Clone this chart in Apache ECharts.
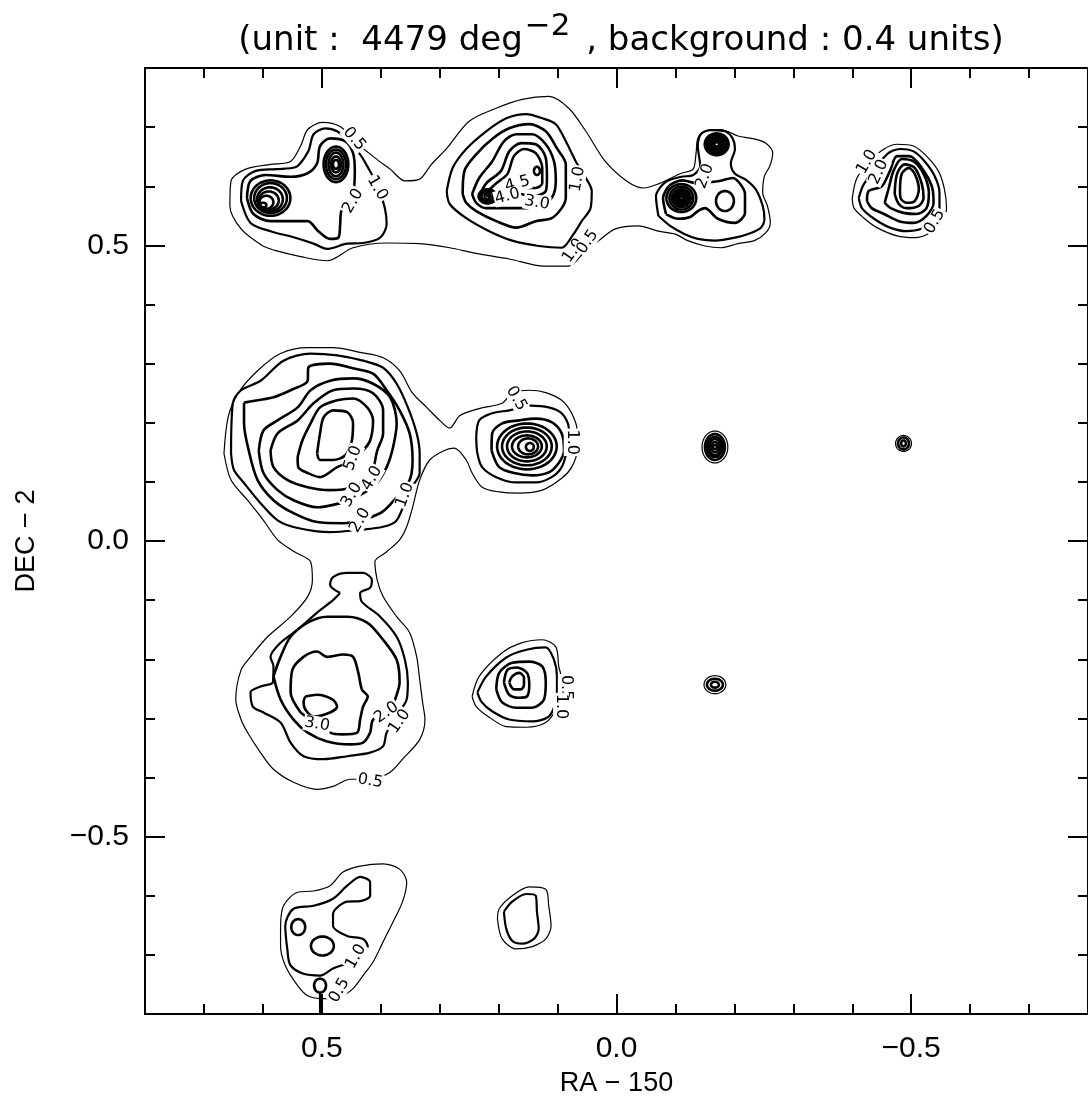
<!DOCTYPE html>
<html>
<head>
<meta charset="utf-8">
<title>RA / DEC density contours</title>
<script src="https://cdn.jsdelivr.net/npm/echarts@6/dist/echarts.min.js"></script>
<style>
html, body { margin: 0; padding: 0; background: #fff; }
#chart { width: 1088px; height: 1102px; }
</style>
</head>
<body>
<div id="chart"></div>
<script>
// axes: RA - 150 (deg, runs right to left) and DEC - 2 (deg)
var axisMin = -0.8;
var axisMax = 0.8;
var majorTicks = [-0.5, 0, 0.5];

// contour vertices [RA-150, DEC-2]
// top row: one 0.5 outline around the three groups
var topRow05 = [[0.600,0.499],[0.637,0.528],[0.656,0.567],[0.654,0.609],[0.629,0.629],[0.587,0.637],[0.553,0.642],[0.536,0.668],[0.524,0.696],[0.499,0.708],[0.469,0.701],[0.440,0.673],[0.410,0.648],[0.384,0.629],[0.359,0.609],[0.334,0.612],[0.314,0.637],[0.288,0.664],[0.250,0.710],[0.204,0.732],[0.160,0.747],[0.115,0.752],[0.081,0.732],[0.052,0.693],[0.019,0.642],[-0.017,0.609],[-0.046,0.597],[-0.071,0.604],[-0.110,0.622],[-0.130,0.629],[-0.135,0.656],[-0.138,0.681],[-0.150,0.693],[-0.177,0.696],[-0.206,0.685],[-0.234,0.680],[-0.253,0.673],[-0.265,0.656],[-0.260,0.634],[-0.251,0.617],[-0.248,0.589],[-0.256,0.567],[-0.261,0.538],[-0.253,0.521],[-0.234,0.508],[-0.206,0.503],[-0.177,0.496],[-0.150,0.499],[-0.121,0.508],[-0.100,0.519],[-0.071,0.524],[-0.037,0.533],[0.002,0.528],[0.030,0.508],[0.056,0.487],[0.081,0.465],[0.123,0.465],[0.182,0.477],[0.241,0.487],[0.283,0.496],[0.334,0.503],[0.390,0.504],[0.447,0.496],[0.491,0.474],[0.536,0.481],[0.578,0.491],[0.600,0.499]];

// top-left group
var a10 = [[0.637,0.575],[0.634,0.609],[0.612,0.626],[0.578,0.629],[0.545,0.632],[0.523,0.659],[0.514,0.688],[0.494,0.698],[0.474,0.693],[0.455,0.676],[0.435,0.654],[0.423,0.634],[0.405,0.600],[0.393,0.563],[0.390,0.536],[0.401,0.513],[0.430,0.504],[0.457,0.503],[0.491,0.494],[0.514,0.503],[0.545,0.513],[0.587,0.524],[0.621,0.538],[0.637,0.575]];
var a20 = [[0.627,0.580],[0.621,0.609],[0.595,0.619],[0.553,0.616],[0.524,0.622],[0.508,0.639],[0.503,0.668],[0.486,0.681],[0.460,0.676],[0.447,0.656],[0.444,0.626],[0.449,0.578],[0.467,0.558],[0.469,0.533],[0.472,0.513],[0.486,0.511],[0.506,0.524],[0.524,0.541],[0.553,0.541],[0.587,0.541],[0.616,0.553],[0.627,0.580]];

// top-middle group
var b10 = [[0.288,0.592],[0.278,0.631],[0.255,0.663],[0.221,0.693],[0.187,0.715],[0.153,0.722],[0.126,0.715],[0.103,0.705],[0.086,0.676],[0.069,0.642],[0.052,0.614],[0.042,0.592],[0.044,0.563],[0.059,0.541],[0.073,0.519],[0.093,0.496],[0.132,0.499],[0.177,0.508],[0.216,0.524],[0.255,0.546],[0.283,0.570],[0.288,0.592]];
var b20 = [[0.261,0.587],[0.258,0.626],[0.238,0.654],[0.211,0.680],[0.182,0.698],[0.148,0.705],[0.120,0.693],[0.101,0.664],[0.086,0.637],[0.086,0.614],[0.086,0.580],[0.093,0.563],[0.110,0.546],[0.137,0.541],[0.170,0.530],[0.204,0.541],[0.238,0.558],[0.255,0.572],[0.261,0.587]];
var b30 = [[0.245,0.587],[0.233,0.614],[0.211,0.642],[0.191,0.676],[0.170,0.688],[0.143,0.688],[0.120,0.671],[0.106,0.642],[0.103,0.609],[0.110,0.580],[0.132,0.567],[0.153,0.563],[0.187,0.563],[0.221,0.563],[0.238,0.572],[0.245,0.587]];
var b40 = [[0.233,0.583],[0.221,0.605],[0.196,0.626],[0.182,0.659],[0.162,0.673],[0.137,0.671],[0.120,0.648],[0.118,0.614],[0.120,0.592],[0.143,0.583],[0.165,0.587],[0.194,0.580],[0.216,0.572],[0.229,0.575],[0.233,0.583]];
var b45 = [[0.221,0.589],[0.204,0.605],[0.185,0.621],[0.174,0.651],[0.157,0.663],[0.137,0.656],[0.126,0.631],[0.126,0.605],[0.137,0.597],[0.160,0.597],[0.187,0.592],[0.207,0.583],[0.219,0.583],[0.221,0.589]];

// top-right pair
var c10 = [[-0.071,0.550],[-0.067,0.583],[-0.083,0.607],[-0.110,0.616],[-0.130,0.619],[-0.142,0.634],[-0.138,0.668],[-0.143,0.688],[-0.160,0.695],[-0.184,0.693],[-0.197,0.681],[-0.201,0.663],[-0.194,0.639],[-0.201,0.621],[-0.218,0.612],[-0.236,0.595],[-0.248,0.567],[-0.251,0.545],[-0.245,0.530],[-0.228,0.521],[-0.201,0.513],[-0.167,0.508],[-0.138,0.511],[-0.116,0.519],[-0.091,0.533],[-0.071,0.550]];
var c20 = [[-0.084,0.553],[-0.079,0.580],[-0.091,0.602],[-0.113,0.610],[-0.135,0.605],[-0.175,0.609],[-0.197,0.614],[-0.209,0.605],[-0.218,0.587],[-0.218,0.555],[-0.201,0.538],[-0.172,0.545],[-0.150,0.563],[-0.138,0.558],[-0.125,0.548],[-0.105,0.545],[-0.084,0.553]];

// far top-right group
var d05 = [[-0.400,0.580],[-0.408,0.614],[-0.430,0.642],[-0.454,0.663],[-0.476,0.671],[-0.504,0.668],[-0.526,0.651],[-0.546,0.626],[-0.556,0.597],[-0.560,0.563],[-0.551,0.541],[-0.531,0.521],[-0.506,0.513],[-0.476,0.516],[-0.442,0.530],[-0.420,0.546],[-0.403,0.563],[-0.400,0.580]];
var d10 = [[-0.411,0.580],[-0.420,0.604],[-0.459,0.654],[-0.481,0.663],[-0.504,0.659],[-0.523,0.642],[-0.540,0.617],[-0.548,0.589],[-0.548,0.563],[-0.538,0.541],[-0.518,0.528],[-0.492,0.524],[-0.464,0.530],[-0.437,0.545],[-0.417,0.562],[-0.411,0.580]];
var d20 = [[-0.425,0.575],[-0.428,0.592],[-0.450,0.600],[-0.464,0.626],[-0.476,0.651],[-0.497,0.651],[-0.518,0.631],[-0.535,0.600],[-0.538,0.572],[-0.526,0.550],[-0.504,0.538],[-0.479,0.541],[-0.454,0.553],[-0.433,0.563],[-0.425,0.575]];
var d30 = [[-0.455,0.572],[-0.462,0.597],[-0.470,0.626],[-0.484,0.646],[-0.504,0.642],[-0.521,0.621],[-0.530,0.589],[-0.526,0.563],[-0.509,0.553],[-0.487,0.555],[-0.467,0.562],[-0.455,0.572]];
var d40 = [[-0.472,0.587],[-0.476,0.621],[-0.489,0.637],[-0.506,0.631],[-0.518,0.604],[-0.521,0.580],[-0.513,0.567],[-0.492,0.563],[-0.479,0.570],[-0.472,0.587]];
var d50 = [[-0.481,0.592],[-0.484,0.621],[-0.496,0.631],[-0.506,0.621],[-0.513,0.595],[-0.506,0.575],[-0.492,0.572],[-0.482,0.580],[-0.481,0.592]];

// middle: one 0.5 outline round the big left group, its neighbour and the group below
var mid05 = [[0.666,0.148],[0.659,0.209],[0.642,0.250],[0.609,0.288],[0.570,0.317],[0.524,0.327],[0.481,0.327],[0.435,0.319],[0.396,0.310],[0.368,0.288],[0.346,0.250],[0.322,0.226],[0.300,0.204],[0.283,0.191],[0.266,0.212],[0.233,0.224],[0.194,0.233],[0.177,0.250],[0.148,0.255],[0.120,0.251],[0.093,0.238],[0.076,0.216],[0.067,0.187],[0.067,0.153],[0.076,0.125],[0.093,0.106],[0.126,0.086],[0.165,0.081],[0.199,0.083],[0.228,0.091],[0.245,0.115],[0.255,0.137],[0.275,0.157],[0.292,0.153],[0.317,0.137],[0.334,0.103],[0.346,0.057],[0.356,0.024],[0.368,0.002],[0.391,-0.019],[0.410,-0.035],[0.406,-0.066],[0.396,-0.094],[0.373,-0.128],[0.351,-0.155],[0.339,-0.196],[0.334,-0.234],[0.329,-0.273],[0.325,-0.302],[0.334,-0.336],[0.363,-0.369],[0.384,-0.391],[0.418,-0.403],[0.452,-0.403],[0.481,-0.415],[0.508,-0.420],[0.548,-0.408],[0.582,-0.386],[0.604,-0.358],[0.626,-0.324],[0.637,-0.302],[0.646,-0.268],[0.637,-0.218],[0.621,-0.196],[0.592,-0.162],[0.553,-0.128],[0.524,-0.094],[0.516,-0.066],[0.519,-0.035],[0.545,-0.019],[0.575,0.002],[0.599,0.035],[0.626,0.069],[0.654,0.103],[0.666,0.148]];

// big middle-left group
var e10 = [[0.654,0.148],[0.651,0.233],[0.637,0.255],[0.604,0.271],[0.565,0.305],[0.519,0.317],[0.474,0.314],[0.430,0.305],[0.396,0.293],[0.373,0.266],[0.354,0.226],[0.339,0.182],[0.334,0.148],[0.334,0.115],[0.351,0.086],[0.373,0.035],[0.396,0.024],[0.435,0.019],[0.486,0.015],[0.541,0.022],[0.575,0.035],[0.604,0.064],[0.632,0.098],[0.649,0.120],[0.654,0.148]];
var e20 = [[0.632,0.234],[0.609,0.238],[0.582,0.243],[0.553,0.255],[0.524,0.271],[0.523,0.293],[0.486,0.300],[0.447,0.292],[0.413,0.283],[0.390,0.255],[0.368,0.221],[0.351,0.182],[0.346,0.137],[0.351,0.103],[0.373,0.074],[0.401,0.047],[0.464,0.030],[0.508,0.032],[0.548,0.047],[0.582,0.069],[0.609,0.103],[0.624,0.153],[0.632,0.199],[0.632,0.234]];
var e30 = [[0.607,0.153],[0.599,0.187],[0.575,0.204],[0.541,0.226],[0.519,0.255],[0.486,0.271],[0.447,0.275],[0.413,0.266],[0.384,0.243],[0.373,0.199],[0.379,0.159],[0.390,0.125],[0.410,0.094],[0.444,0.073],[0.469,0.064],[0.508,0.057],[0.548,0.069],[0.575,0.086],[0.599,0.115],[0.607,0.153]];
var e40 = [[0.587,0.153],[0.575,0.182],[0.541,0.204],[0.514,0.233],[0.481,0.255],[0.447,0.258],[0.413,0.250],[0.396,0.221],[0.396,0.182],[0.406,0.153],[0.418,0.108],[0.447,0.091],[0.486,0.086],[0.524,0.091],[0.558,0.103],[0.582,0.125],[0.587,0.153]];
var e50 = [[0.541,0.142],[0.533,0.170],[0.519,0.199],[0.503,0.226],[0.474,0.238],[0.447,0.241],[0.423,0.226],[0.413,0.204],[0.418,0.170],[0.430,0.153],[0.452,0.133],[0.474,0.125],[0.503,0.108],[0.524,0.115],[0.540,0.125],[0.541,0.142]];
var e60 = [[0.508,0.148],[0.503,0.182],[0.497,0.209],[0.481,0.221],[0.457,0.218],[0.447,0.199],[0.449,0.170],[0.460,0.145],[0.481,0.137],[0.503,0.137],[0.508,0.148]];

// middle group
var f10 = [[0.238,0.175],[0.233,0.204],[0.211,0.216],[0.182,0.221],[0.145,0.229],[0.115,0.226],[0.093,0.216],[0.081,0.192],[0.081,0.170],[0.084,0.153],[0.093,0.125],[0.110,0.108],[0.137,0.099],[0.170,0.099],[0.204,0.108],[0.228,0.125],[0.236,0.148],[0.238,0.175]];
var f20 = [[0.212,0.153],[0.211,0.182],[0.194,0.199],[0.165,0.204],[0.137,0.207],[0.110,0.201],[0.093,0.182],[0.089,0.153],[0.098,0.132],[0.115,0.116],[0.143,0.111],[0.174,0.115],[0.199,0.125],[0.212,0.153]];

// lower-left group
var g10 = [[0.469,-0.088],[0.486,-0.074],[0.481,-0.061],[0.457,-0.054],[0.430,-0.054],[0.415,-0.066],[0.418,-0.079],[0.435,-0.088],[0.432,-0.103],[0.401,-0.128],[0.373,-0.162],[0.359,-0.201],[0.354,-0.239],[0.356,-0.268],[0.368,-0.288],[0.390,-0.324],[0.396,-0.347],[0.418,-0.358],[0.457,-0.364],[0.497,-0.369],[0.531,-0.364],[0.553,-0.341],[0.570,-0.307],[0.599,-0.290],[0.617,-0.280],[0.621,-0.256],[0.604,-0.246],[0.583,-0.239],[0.582,-0.212],[0.587,-0.196],[0.570,-0.172],[0.541,-0.150],[0.508,-0.121],[0.481,-0.100],[0.469,-0.088]];
var g20 = [[0.582,-0.229],[0.570,-0.196],[0.553,-0.162],[0.524,-0.138],[0.491,-0.128],[0.457,-0.128],[0.423,-0.138],[0.396,-0.167],[0.373,-0.201],[0.368,-0.239],[0.373,-0.260],[0.384,-0.285],[0.413,-0.302],[0.418,-0.324],[0.430,-0.341],[0.452,-0.344],[0.491,-0.339],[0.524,-0.324],[0.548,-0.302],[0.570,-0.268],[0.582,-0.229]];
var g30 = [[0.536,-0.290],[0.553,-0.256],[0.550,-0.218],[0.531,-0.196],[0.508,-0.187],[0.491,-0.196],[0.464,-0.192],[0.447,-0.196],[0.438,-0.223],[0.432,-0.251],[0.422,-0.263],[0.430,-0.280],[0.435,-0.302],[0.440,-0.324],[0.464,-0.327],[0.486,-0.324],[0.536,-0.290]];
var g40 = [[0.528,-0.263],[0.508,-0.260],[0.482,-0.268],[0.474,-0.280],[0.486,-0.290],[0.514,-0.297],[0.528,-0.285],[0.531,-0.272],[0.528,-0.263]];

// lower-middle group
var h05 = [[0.245,-0.263],[0.233,-0.229],[0.194,-0.189],[0.160,-0.172],[0.126,-0.167],[0.103,-0.179],[0.098,-0.212],[0.093,-0.234],[0.098,-0.263],[0.103,-0.285],[0.120,-0.307],[0.153,-0.315],[0.187,-0.314],[0.216,-0.298],[0.238,-0.280],[0.245,-0.263]];
var h10 = [[0.236,-0.256],[0.221,-0.229],[0.187,-0.197],[0.153,-0.184],[0.120,-0.180],[0.106,-0.201],[0.101,-0.229],[0.101,-0.251],[0.103,-0.273],[0.115,-0.297],[0.143,-0.305],[0.182,-0.302],[0.211,-0.288],[0.229,-0.272],[0.236,-0.256]];
var h20 = [[0.204,-0.251],[0.199,-0.223],[0.177,-0.206],[0.148,-0.204],[0.126,-0.212],[0.120,-0.239],[0.123,-0.268],[0.143,-0.282],[0.170,-0.282],[0.194,-0.273],[0.204,-0.251]];
var h30 = [[0.191,-0.239],[0.185,-0.218],[0.169,-0.214],[0.152,-0.223],[0.148,-0.243],[0.152,-0.263],[0.165,-0.265],[0.182,-0.260],[0.191,-0.239]];
var h40 = [[0.182,-0.239],[0.177,-0.229],[0.165,-0.223],[0.157,-0.231],[0.157,-0.243],[0.162,-0.251],[0.174,-0.251],[0.179,-0.246],[0.182,-0.239]];

// bottom-left group
var i05 = [[0.570,-0.651],[0.565,-0.617],[0.541,-0.594],[0.514,-0.592],[0.486,-0.583],[0.464,-0.560],[0.435,-0.550],[0.396,-0.546],[0.368,-0.555],[0.356,-0.577],[0.363,-0.610],[0.379,-0.644],[0.396,-0.678],[0.413,-0.712],[0.430,-0.735],[0.447,-0.757],[0.469,-0.771],[0.497,-0.774],[0.524,-0.769],[0.541,-0.752],[0.562,-0.718],[0.570,-0.685],[0.570,-0.651]];
var i10 = [[0.558,-0.695],[0.562,-0.651],[0.548,-0.622],[0.514,-0.617],[0.481,-0.605],[0.457,-0.583],[0.435,-0.568],[0.418,-0.577],[0.418,-0.600],[0.435,-0.609],[0.457,-0.610],[0.481,-0.631],[0.481,-0.651],[0.457,-0.668],[0.430,-0.673],[0.422,-0.686],[0.430,-0.695],[0.452,-0.712],[0.481,-0.723],[0.503,-0.735],[0.531,-0.732],[0.553,-0.718],[0.558,-0.695]];
var iStem = [[0.503,-0.764],[0.503,-0.800]];

// bottom-middle group
var j05 = [[0.202,-0.639],[0.199,-0.622],[0.177,-0.600],[0.148,-0.585],[0.120,-0.589],[0.115,-0.617],[0.111,-0.651],[0.120,-0.673],[0.143,-0.686],[0.170,-0.690],[0.194,-0.673],[0.202,-0.639]];
var j10 = [[0.191,-0.627],[0.177,-0.610],[0.153,-0.597],[0.137,-0.600],[0.135,-0.627],[0.132,-0.656],[0.140,-0.673],[0.160,-0.681],[0.177,-0.676],[0.187,-0.656],[0.191,-0.627]];

// [level, vertices]
var contours = [
  [0.5, topRow05], [1, a10], [2, a20],
  [1, b10], [2, b20], [3, b30], [4, b40], [4.5, b45],
  [1, c10], [2, c20],
  [0.5, d05], [1, d10], [2, d20], [3, d30], [4, d40], [5, d50],
  [0.5, mid05],
  [1, e10], [2, e20], [3, e30], [4, e40], [5, e50], [6, e60],
  [1, f10], [2, f20],
  [1, g10], [2, g20], [3, g30], [4, g40],
  [0.5, h05], [1, h10], [2, h20], [3, h30], [4, h40],
  [0.5, i05], [1, i10], [1, iStem],
  [0.5, j05], [1, j10]
];

// tight closed rings round the peaks: [RA, DEC, half-width, half-height, level]
var peakRings = [
  [0.587,0.580,0.0337,0.030,3],[0.587,0.580,0.0278,0.0253,3],[0.588,0.578,0.0219,0.0202,3],[0.590,0.576,0.0169,0.0152,3],[0.594,0.573,0.0118,0.011,3],[0.600,0.568,0.0059,0.0042,3],
  [0.476,0.637,0.021,0.030,3],[0.476,0.637,0.017,0.025,3],[0.476,0.637,0.0126,0.020,3],[0.476,0.637,0.0084,0.0135,3],[0.476,0.637,0.005,0.0076,3],
  [0.219,0.583,0.015,0.012,5],[0.219,0.583,0.010,0.0084,5],[0.219,0.583,0.005,0.005,5],[0.135,0.626,0.005,0.007,5],
  [-0.110,0.580,0.0253,0.0236,3],[-0.110,0.580,0.0202,0.0194,3],[-0.110,0.580,0.016,0.0152,3],[-0.110,0.580,0.0126,0.0118,3],[-0.110,0.580,0.0093,0.0084,3],[-0.110,0.580,0.0059,0.0059,3],[-0.110,0.580,0.003,0.003,3],
  [-0.170,0.671,0.0202,0.0185,3],[-0.170,0.671,0.0169,0.016,3],[-0.170,0.671,0.0135,0.0126,3],[-0.170,0.671,0.0101,0.0093,3],[-0.170,0.671,0.0067,0.0062,3],[-0.170,0.671,0.0037,0.0037,3],
  [-0.184,0.575,0.0152,0.0169,2],
  [0.152,0.160,0.0506,0.0388,3],[0.152,0.160,0.0422,0.032,3],[0.152,0.160,0.0337,0.0253,3],[0.152,0.160,0.0253,0.0186,3],[0.150,0.160,0.0169,0.0135,3],[0.147,0.159,0.0067,0.0067,3],
  [0.540,-0.653,0.0118,0.0135,2],[0.499,-0.685,0.0194,0.016,2],[0.503,-0.752,0.0101,0.0118,2],
  [-0.167,0.159,0.0219,0.027,0.5],[-0.167,0.159,0.0169,0.0219,2],[-0.167,0.159,0.0135,0.0169,2],[-0.167,0.159,0.0101,0.0135,2],[-0.167,0.159,0.0067,0.0084,2],[-0.167,0.159,0.0034,0.0034,2],
  [-0.487,0.165,0.0135,0.0135,0.5],[-0.487,0.165,0.0093,0.0101,2],[-0.487,0.165,0.0042,0.005,2],
  [-0.167,-0.243,0.0185,0.0152,0.5],[-0.167,-0.243,0.0135,0.0101,2],[-0.167,-0.243,0.0067,0.005,2]
];

// level labels on the lines: [text, RA, DEC, angle in degrees]
var contourLabels = [
  ['0.5',0.445,0.680,-50],['1.0',0.406,0.597,-60],['2.0',0.447,0.575,60],
  ['4.5',0.168,0.604,15],['4.0',0.185,0.583,15],['3.0',0.135,0.572,-10],['1.0',0.066,0.612,80],['1.0',0.073,0.491,55],['0.5',0.049,0.506,55],
  ['2.0',-0.150,0.617,70],
  ['1.0',-0.425,0.641,60],['2.0',-0.445,0.624,65],['0.5',-0.540,0.540,60],
  ['5.0',0.447,0.140,70],['4.0',0.415,0.106,60],['3.0',0.449,0.078,60],['2.0',0.435,0.035,60],['1.0',0.359,0.078,70],
  ['0.5',0.170,0.241,-60],['1.0',0.076,0.167,-90],
  ['3.0',0.508,-0.310,-10],['2.0',0.390,-0.290,35],['1.0',0.368,-0.305,55],['0.5',0.418,-0.406,-10],
  ['0.5',0.086,-0.248,-90],['1.0',0.094,-0.280,-90],
  ['1.0',0.442,-0.703,60],['0.5',0.470,-0.760,60]
];

function lineWidth(level) {
    if (level <= 0.5) return 1.2;
    if (level <= 1) return 2.2;
    return 2.6;
}

function fmt(v) {
    if (Math.abs(v) < 1e-9) return '0.0';
    return (v < 0 ? '\u2212' : '') + Math.abs(v).toFixed(1);
}

var chart = echarts.init(document.getElementById('chart'), null, { renderer: 'canvas' });

var series = contours.map(function (c) {
    return {
        type: 'line',
        data: c[1],
        showSymbol: false,
        symbol: 'none',
        smooth: 0.3,
        silent: true,
        animation: false,
        lineStyle: { color: '#000', width: lineWidth(c[0]) },
        z: 2
    };
});

series.push({
    type: 'custom',
    data: peakRings,
    encode: { x: 0, y: 1 },
    silent: true,
    animation: false,
    z: 3,
    renderItem: function (params, api) {
        var c = api.coord([api.value(0), api.value(1)]);
        var s = api.size([api.value(2), api.value(3)]);
        var rx = Math.abs(s[0]), ry = Math.abs(s[1]);
        var pts = [];
        for (var k = 0; k < 48; k++) {
            var t = k / 48 * Math.PI * 2;
            pts.push([c[0] + rx * Math.cos(t), c[1] + ry * Math.sin(t)]);
        }
        return {
            type: 'polygon',
            shape: { points: pts },
            style: { fill: null, stroke: '#000', lineWidth: lineWidth(api.value(4)) }
        };
    }
});

series.push({
    type: 'custom',
    data: contourLabels.map(function (l) { return [l[1], l[2]]; }),
    encode: { x: 0, y: 1 },
    silent: true,
    animation: false,
    z: 5,
    renderItem: function (params, api) {
        var p = api.coord([api.value(0), api.value(1)]);
        var l = contourLabels[params.dataIndex];
        return {
            type: 'text',
            x: p[0],
            y: p[1],
            rotation: l[3] * Math.PI / 180,
            style: {
                text: l[0],
                fontSize: 16,
                fontFamily: 'DejaVu Sans',
                fill: '#000',
                align: 'center',
                verticalAlign: 'middle',
                backgroundColor: '#fff',
                padding: [0, 1]
            }
        };
    }
});

var tickFont = { fontSize: 30, fontFamily: 'Liberation Sans', color: '#000' };

function minorAxis(pos) {
    return {
        type: 'value', position: pos, min: axisMin, max: axisMax, interval: 0.1,
        axisLine: { show: true, onZero: false, lineStyle: { color: '#000', width: 2 } },
        axisTick: { show: true, inside: true, length: 10, lineStyle: { color: '#000', width: 2 } },
        axisLabel: { show: false },
        splitLine: { show: false }
    };
}

function majorAxis(pos, withLabels) {
    return {
        type: 'value', position: pos, min: axisMin, max: axisMax,
        axisLine: { show: false, onZero: false },
        axisTick: { show: true, inside: true, length: 20, customValues: majorTicks, lineStyle: { color: '#000', width: 2 } },
        axisLabel: withLabels ? {
            show: true, customValues: majorTicks, formatter: fmt,
            fontSize: tickFont.fontSize, fontFamily: tickFont.fontFamily, color: '#000', margin: 20
        } : { show: false },
        splitLine: { show: false }
    };
}

var xBottom = majorAxis('bottom', true);
xBottom.name = 'RA \u2212 150';
xBottom.nameLocation = 'middle';
xBottom.nameGap = 56;
xBottom.nameTextStyle = { fontSize: 27, fontFamily: 'Liberation Sans', color: '#000' };

var yLeft = majorAxis('left', true);
yLeft.axisLabel.margin = 16;
yLeft.name = 'DEC \u2212 2';
yLeft.nameLocation = 'middle';
yLeft.nameGap = 105;
yLeft.nameTextStyle = { fontSize: 27, fontFamily: 'Liberation Sans', color: '#000' };

var xAxes = [minorAxis('bottom'), xBottom, minorAxis('top'), majorAxis('top', false)];
xAxes.forEach(function (a) { a.inverse = true; });
var yAxes = [minorAxis('left'), yLeft, minorAxis('right'), majorAxis('right', false)];

chart.setOption({
    backgroundColor: '#fff',
    animation: false,
    title: {
        text: '{a|(unit :  4479 deg}{s|\u22122}{a| , background : 0.4 units)}',
        left: 616,
        top: 6,
        textAlign: 'center',
        textStyle: {
            rich: {
                a: { fontSize: 34, fontFamily: 'DejaVu Sans', fontWeight: 'normal', color: '#000', verticalAlign: 'bottom' },
                s: { fontSize: 31, fontFamily: 'DejaVu Sans', fontWeight: 'normal', color: '#000', padding: [0, 5, 16, 2] }
            }
        }
    },
    grid: { left: 145, top: 68, width: 949, height: 947 },
    xAxis: xAxes,
    yAxis: yAxes,
    series: series
});
</script>
</body>
</html>
